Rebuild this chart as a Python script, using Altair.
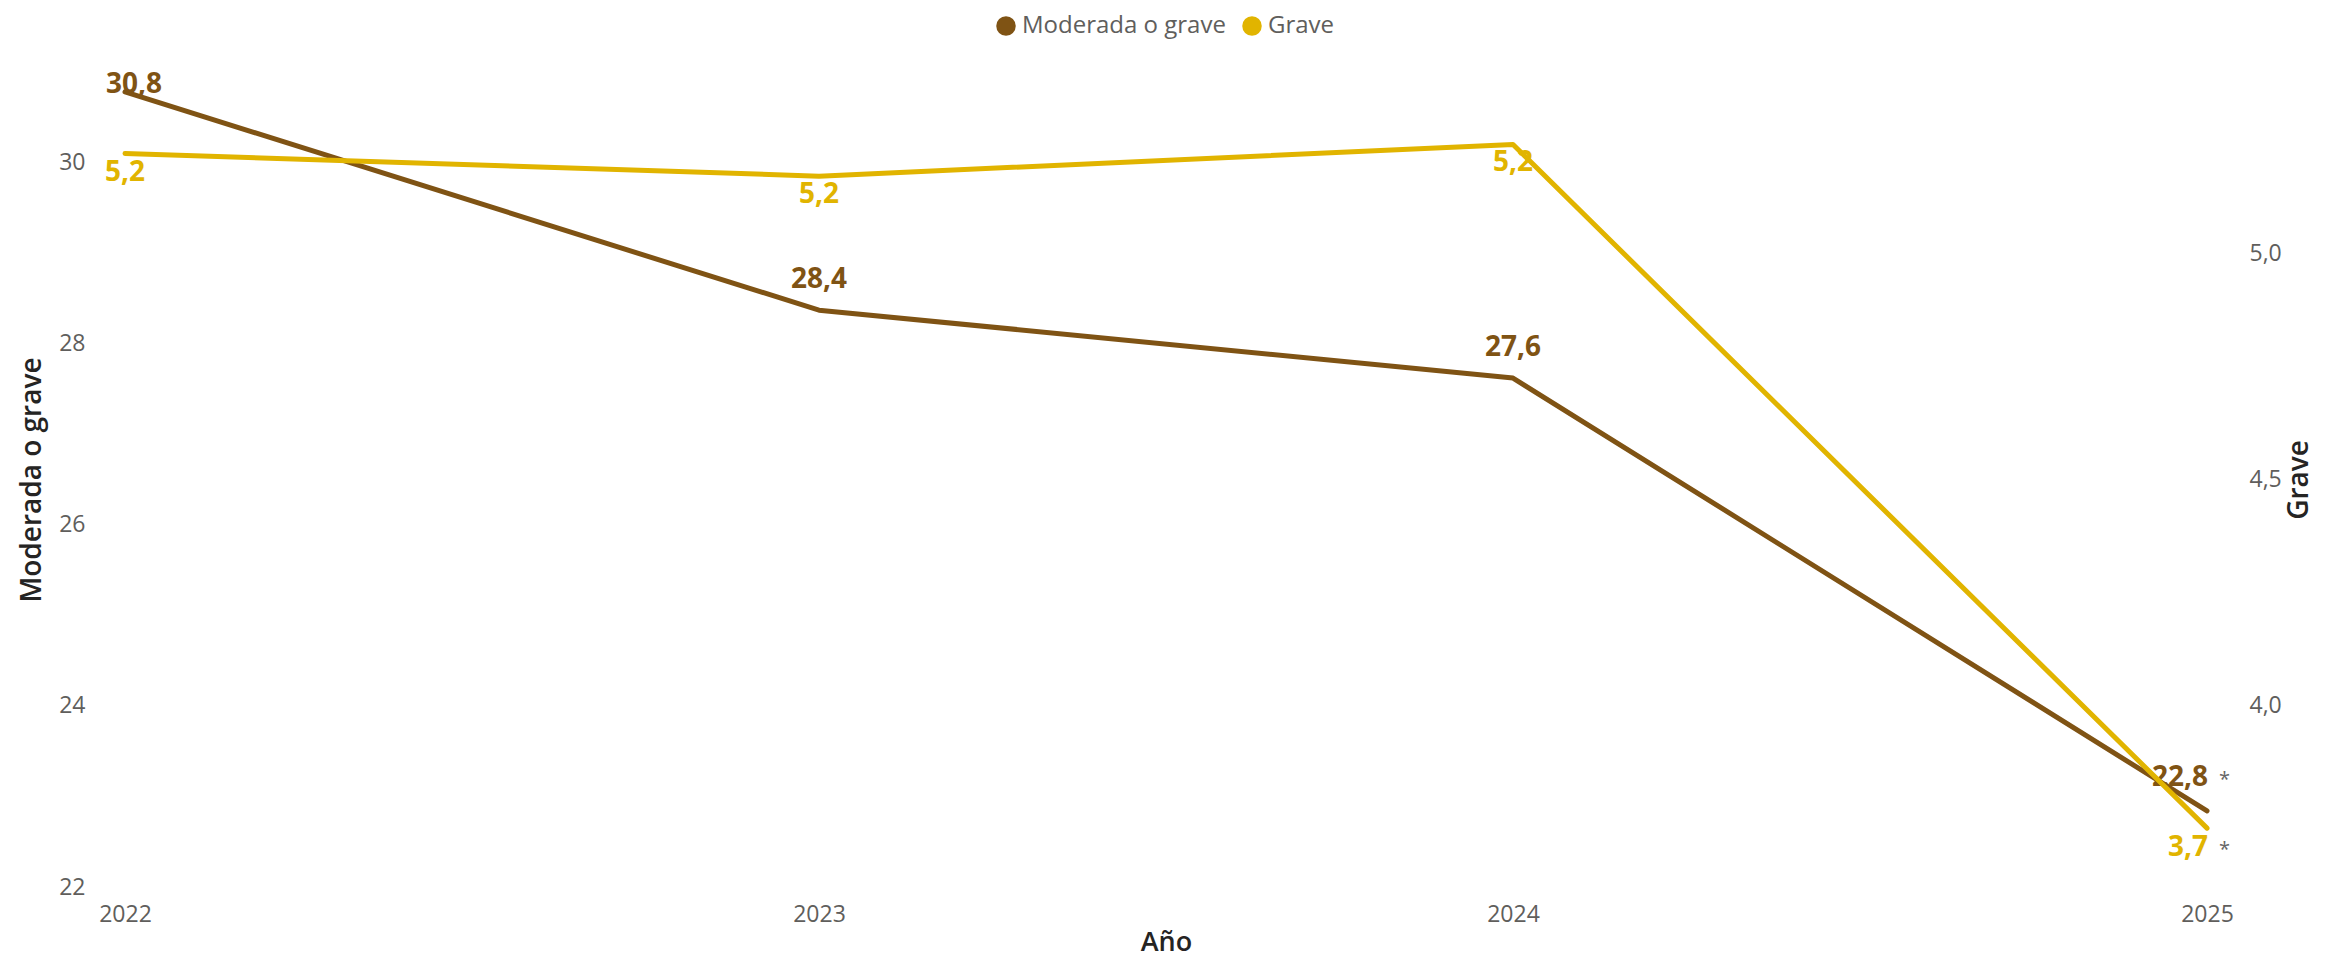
import altair as alt
import pandas as pd

# ---- data ----
years = ["2022", "2023", "2024", "2025"]
moderada = [30.78, 28.37, 27.62, 22.84]
grave = [5.22, 5.17, 5.24, 3.73]
series = ["Moderada o grave", "Grave"]
left_ticks = [22, 24, 26, 28, 30]
right_ticks = [4.0, 4.5, 5.0]

BROWN = "#7F5314"
GOLD = "#E1B400"
FONT = "Open Sans"
GRAY = "#605E5C"
DARK = "#252423"

df = pd.DataFrame({"anio": years, "mod": moderada, "grave": grave})

x_enc = alt.X(
    "anio:O",
    scale=alt.Scale(type="point", padding=0),
    axis=alt.Axis(
        title="Año", labelAngle=0, grid=False, domain=False, ticks=False,
        labelFont=FONT, labelFontSize=23, labelColor=GRAY, labelPadding=16,
        titleFont=FONT, titleFontSize=27, titleColor=DARK, titleFontWeight=600,
        titlePadding=3,
    ),
)

left_axis = alt.Axis(
    title="Moderada o grave", values=left_ticks, grid=False, domain=False, ticks=False,
    labelFont=FONT, labelFontSize=23, labelColor=GRAY, labelPadding=40,
    titleFont=FONT, titleFontSize=28, titleColor=DARK, titleFontWeight=600,
    titlePadding=12,
)
right_axis = alt.Axis(
    title="Grave", orient="right", values=right_ticks, grid=False, domain=False, ticks=False,
    labelExpr="replace(format(datum.value, '.1f'), '.', ',')",
    labelFont=FONT, labelFontSize=23, labelColor=GRAY, labelPadding=42,
    titleFont=FONT, titleFontSize=28, titleColor=DARK, titleFontWeight=600,
    titlePadding=32, titleAngle=270,
)

y_mod = alt.Y("mod:Q", scale=alt.Scale(domain=[22, 31], nice=False, zero=False), axis=left_axis)
y_gr = alt.Y("grave:Q", scale=alt.Scale(domain=[3.6, 5.4], nice=False, zero=False), axis=right_axis)

base = alt.Chart(df)


def label_layer(field, y_enc, color, yrs, align, dx, dy):
    return (
        base.transform_filter(alt.FieldOneOfPredicate(field="anio", oneOf=yrs))
        .transform_calculate(lbl=f"replace(format(datum['{field}'], '.1f'), '.', ',')")
        .mark_text(align=align, baseline="alphabetic", dx=dx, dy=dy, font=FONT,
                   fontSize=28, fontWeight="bold", color=color)
        .encode(x=x_enc, y=y_enc, text="lbl:N")
    )


def star_layer(y_enc, dy):
    return (
        base.transform_filter(alt.FieldOneOfPredicate(field="anio", oneOf=["2025"]))
        .mark_text(align="left", baseline="alphabetic", dx=12, dy=dy, font=FONT,
                   fontSize=20, color="#666666")
        .encode(x=x_enc, y=y_enc, text=alt.value("*"))
    )


line_mod = base.mark_line(color=BROWN, strokeWidth=5, strokeCap="round", strokeJoin="round").encode(x=x_enc, y=y_mod)
line_gr = base.mark_line(color=GOLD, strokeWidth=5, strokeCap="round", strokeJoin="round").encode(x=x_enc, y=y_gr)

left = alt.layer(
    line_mod,
    label_layer("mod", y_mod, BROWN, ["2022"], "center", 9, 1),
    label_layer("mod", y_mod, BROWN, ["2023", "2024"], "center", 0, -22),
    label_layer("mod", y_mod, BROWN, ["2025"], "right", 1, -25),
    star_layer(y_mod, -25),
)
right = alt.layer(
    line_gr,
    label_layer("grave", y_gr, GOLD, ["2022", "2023", "2024"], "center", 0, 27),
    label_layer("grave", y_gr, GOLD, ["2025"], "right", 1, 28),
    star_layer(y_gr, 28),
)

leg_df = pd.DataFrame({"serie": series})
legend_layer = alt.Chart(leg_df).mark_point(filled=True, opacity=0, size=10).encode(
    x=alt.value(0),
    y=alt.value(0),
    color=alt.Color(
        "serie:N",
        scale=alt.Scale(domain=series, range=[BROWN, GOLD]),
        title=None,
        legend=alt.Legend(
            orient="none", legendX=869, legendY=-58, direction="horizontal",
            symbolType="circle", symbolSize=380, symbolOpacity=1, symbolStrokeWidth=0,
            labelFont=FONT, labelFontSize=24, labelColor=GRAY, labelOffset=4,
            labelLimit=1000, columnPadding=14,
        ),
    ),
)

chart = (
    alt.layer(left, right, legend_layer)
    .resolve_scale(y="independent")
    .properties(
        width=2082, height=815,
        padding={"left": 117, "top": 64, "right": 108, "bottom": 72},
        autosize=alt.AutoSizeParams(type="none"),
    )
    .configure_view(stroke=None)
)

chart.save("out.html", embed_options={"renderer": "svg", "actions": False})
